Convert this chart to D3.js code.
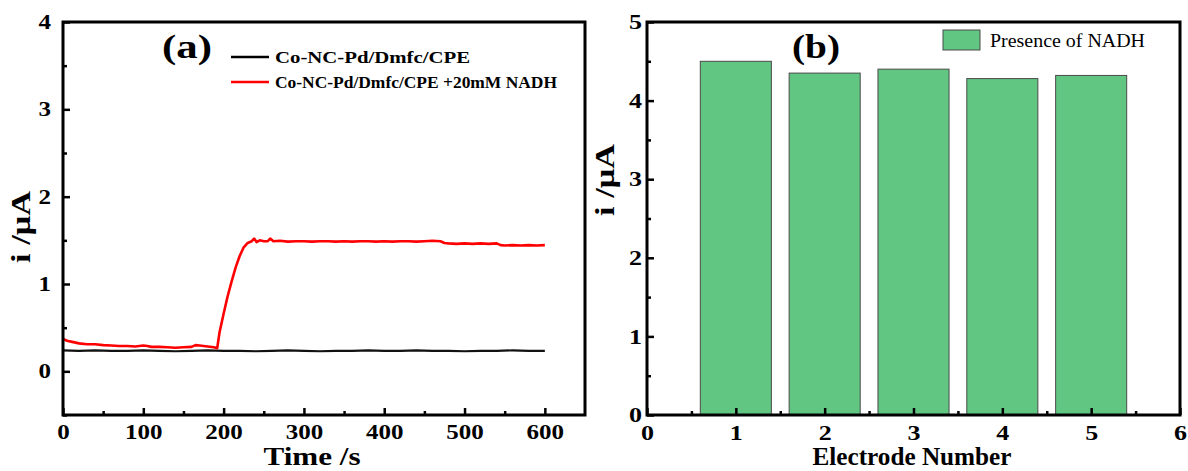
<!DOCTYPE html>
<html lang="en">
  <head>
    <meta charset="UTF-8" />
    <title>Chronoamperometry and electrode reproducibility</title>
    <script src="https://d3js.org/d3.v7.min.js"></script>
    <style>
      body { margin: 0; background: #fff; }
      text { font-family: 'Liberation Serif', 'Times New Roman', serif; }
    </style>
  </head>
  <body>
    <svg width="1188" height="471"></svg>
    <script>
      // panel (a): current vs time
      var timeRed = [0, 5, 10, 20, 30, 40, 50, 60, 70, 80, 90, 100, 105, 110, 120, 130, 140, 150, 160, 165, 170, 180, 188, 192,
        195, 200, 205, 210, 215, 220, 225, 230, 235, 238, 241, 245, 250, 255, 258, 262, 270, 280, 290, 300, 310, 320, 330, 340,
        350, 360, 370, 380, 390, 400, 410, 420, 430, 440, 450, 460, 470, 475, 480, 490, 500, 510, 520, 530, 540, 545, 550, 560,
        570, 580, 590, 600]
      var currentRed = [0.37, 0.35, 0.34, 0.32, 0.31, 0.31, 0.30, 0.295, 0.29, 0.29, 0.285, 0.295, 0.29, 0.28, 0.28, 0.275, 0.27, 0.275, 0.28, 0.30, 0.295, 0.285, 0.275, 0.265,
        0.45, 0.66, 0.86, 1.03, 1.19, 1.32, 1.42, 1.47, 1.49, 1.52, 1.48, 1.50, 1.49, 1.49, 1.52, 1.49, 1.495, 1.485, 1.49, 1.49, 1.485, 1.49, 1.49, 1.485,
        1.49, 1.485, 1.49, 1.49, 1.485, 1.49, 1.485, 1.49, 1.49, 1.485, 1.49, 1.495, 1.49, 1.47, 1.465, 1.46, 1.465, 1.46, 1.465, 1.46, 1.465, 1.445, 1.44, 1.445,
        1.44, 1.445, 1.44, 1.445]
      var timeBlack = [0, 20, 40, 60, 80, 100, 120, 140, 160, 180, 200, 220, 240, 260, 280, 300, 320, 340, 360, 380, 400, 420,
        440, 460, 480, 500, 520, 540, 560, 580, 600]
      var currentBlack = [0.24, 0.235, 0.24, 0.235, 0.235, 0.24, 0.235, 0.23, 0.235, 0.24, 0.235, 0.235, 0.23, 0.235, 0.24, 0.235, 0.23, 0.235, 0.235, 0.24, 0.235, 0.235,
        0.24, 0.235, 0.235, 0.23, 0.235, 0.235, 0.24, 0.235, 0.235]
      var legendA = ['Co-NC-Pd/Dmfc/CPE', 'Co-NC-Pd/Dmfc/CPE +20mM NADH']
      var xTicksA = [0, 100, 200, 300, 400, 500, 600]
      var yTicksA = [0, 1, 2, 3, 4]

      // panel (b): electrode reproducibility
      var electrodes = [1, 2, 3, 4, 5]
      var currentNadh = [4.5, 4.35, 4.4, 4.28, 4.32]
      var xTicksB = [0, 1, 2, 3, 4, 5, 6]
      var yTicksB = [0, 1, 2, 3, 4, 5]

      var svg = d3.select('svg')

      var xA = d3.scaleLinear().domain([0, 650]).range([63, 585])
      var yA = d3.scaleLinear().domain([-0.5, 4]).range([415, 22])
      var xB = d3.scaleLinear().domain([0, 6]).range([647, 1180])
      var yB = d3.scaleLinear().domain([0, 5]).range([415, 22])

      // the source figure is a bit wider than normal Times, so stretch texts to a given length
      function label(x, y, str, size, len, bold, rotate) {
        var t = svg.append('text')
          .attr('transform', `translate(${x},${y})` + (rotate ? ' rotate(-90)' : ''))
          .attr('font-size', size)
          .attr('font-weight', bold ? 'bold' : 'normal')
          .attr('text-anchor', 'middle')
          .attr('textLength', len).attr('lengthAdjust', 'spacingAndGlyphs')
          .text(str)
        return t
      }

      function drawAxes(x, y, xTicks, yTicks, xMinor, yMinor, fs, charW, yPad) {
        var top = y.range()[1], bottom = y.range()[0]
        var left = x.range()[0]
        var g = svg.append('g')
        // minor ticks
        g.append('g').attr('transform', `translate(0,${bottom})`)
          .call(d3.axisBottom(x).tickValues(xMinor).tickSize(-4).tickFormat(''))
        g.append('g').attr('transform', `translate(${left},0)`)
          .call(d3.axisLeft(y).tickValues(yMinor).tickSize(-4).tickFormat(''))
        // major ticks
        g.append('g').attr('transform', `translate(0,${bottom})`)
          .call(d3.axisBottom(x).tickValues(xTicks).tickSize(-7).tickPadding(10).tickFormat(d3.format('d')))
        g.append('g').attr('transform', `translate(${left},0)`)
          .call(d3.axisLeft(y).tickValues(yTicks).tickSize(-7).tickPadding(yPad).tickFormat(d3.format('d')))
        g.selectAll('.domain').remove()
        g.selectAll('.tick line').attr('stroke', '#000').attr('stroke-width', 2.5)
        g.selectAll('.tick text').attr('font-size', fs).attr('font-weight', 'bold')
          .attr('font-family', "'Liberation Serif', serif").attr('fill', '#000')
          .each(function(d) {
            var s = d3.format('d')(d)
            if (s) d3.select(this).attr('textLength', s.length * charW).attr('lengthAdjust', 'spacingAndGlyphs')
          })
        // frame
        svg.append('rect')
          .attr('x', left).attr('y', top)
          .attr('width', x.range()[1] - left).attr('height', bottom - top)
          .attr('fill', 'none').attr('stroke', '#000').attr('stroke-width', 3)
      }

      // ---- panel (a)
      var line = d3.line().x(d => xA(d[0])).y(d => yA(d[1]))
      svg.append('path')
        .datum(timeBlack.map((t, i) => [t, currentBlack[i]]))
        .attr('d', line).attr('fill', 'none').attr('stroke', '#111').attr('stroke-width', 2.2)
      svg.append('path')
        .datum(timeRed.map((t, i) => [t, currentRed[i]]))
        .attr('d', line).attr('fill', 'none').attr('stroke', '#ff0000').attr('stroke-width', 2.6)
        .attr('stroke-linejoin', 'round')

      drawAxes(xA, yA, xTicksA, yTicksA, d3.range(50, 650, 100), [-0.5, 0.5, 1.5, 2.5, 3.5], 20, 12.5, 12)

      var legColors = ['#000', '#ff0000']
      var legLens = [195, 282]
      legendA.forEach(function(name, i) {
        svg.append('line')
          .attr('x1', 231).attr('x2', 269)
          .attr('y1', 57 + i * 25).attr('y2', 57 + i * 25)
          .attr('stroke', legColors[i]).attr('stroke-width', 2.6)
        label(275 + legLens[i] / 2, 63 + i * 25, name, 16, legLens[i], true)
      })
      label(187, 58, '(a)', 34, 50, true)
      label(30, 227, 'i /μA', 28, 72, true, true)
      label(312, 465, 'Time /s', 25, 97, true)

      // ---- panel (b)
      var barW = 0.8
      svg.append('g').selectAll('rect')
        .data(electrodes)
        .enter()
        .append('rect')
        .attr('x', d => xB(d - barW / 2))
        .attr('y', (d, i) => yB(currentNadh[i]))
        .attr('width', xB(barW) - xB(0))
        .attr('height', (d, i) => yB(0) - yB(currentNadh[i]))
        .attr('fill', '#60c681').attr('stroke', '#4a4a4a').attr('stroke-width', 1)

      drawAxes(xB, yB, xTicksB, yTicksB, d3.range(0.5, 6, 1), d3.range(0.5, 5, 1), 21, 13, 5)

      svg.append('rect').attr('x', 943).attr('y', 30).attr('width', 37).attr('height', 20)
        .attr('fill', '#60c681').attr('stroke', '#4a4a4a').attr('stroke-width', 1)
      label(990 + 155 / 2, 47, 'Presence of NADH', 18, 155, false)
      label(816, 58, '(b)', 34, 48, true)
      label(614, 180, 'i /μA', 28, 72, true, true)
      label(912, 465, 'Electrode Number', 25, 199, true)
    </script>
  </body>
</html>
